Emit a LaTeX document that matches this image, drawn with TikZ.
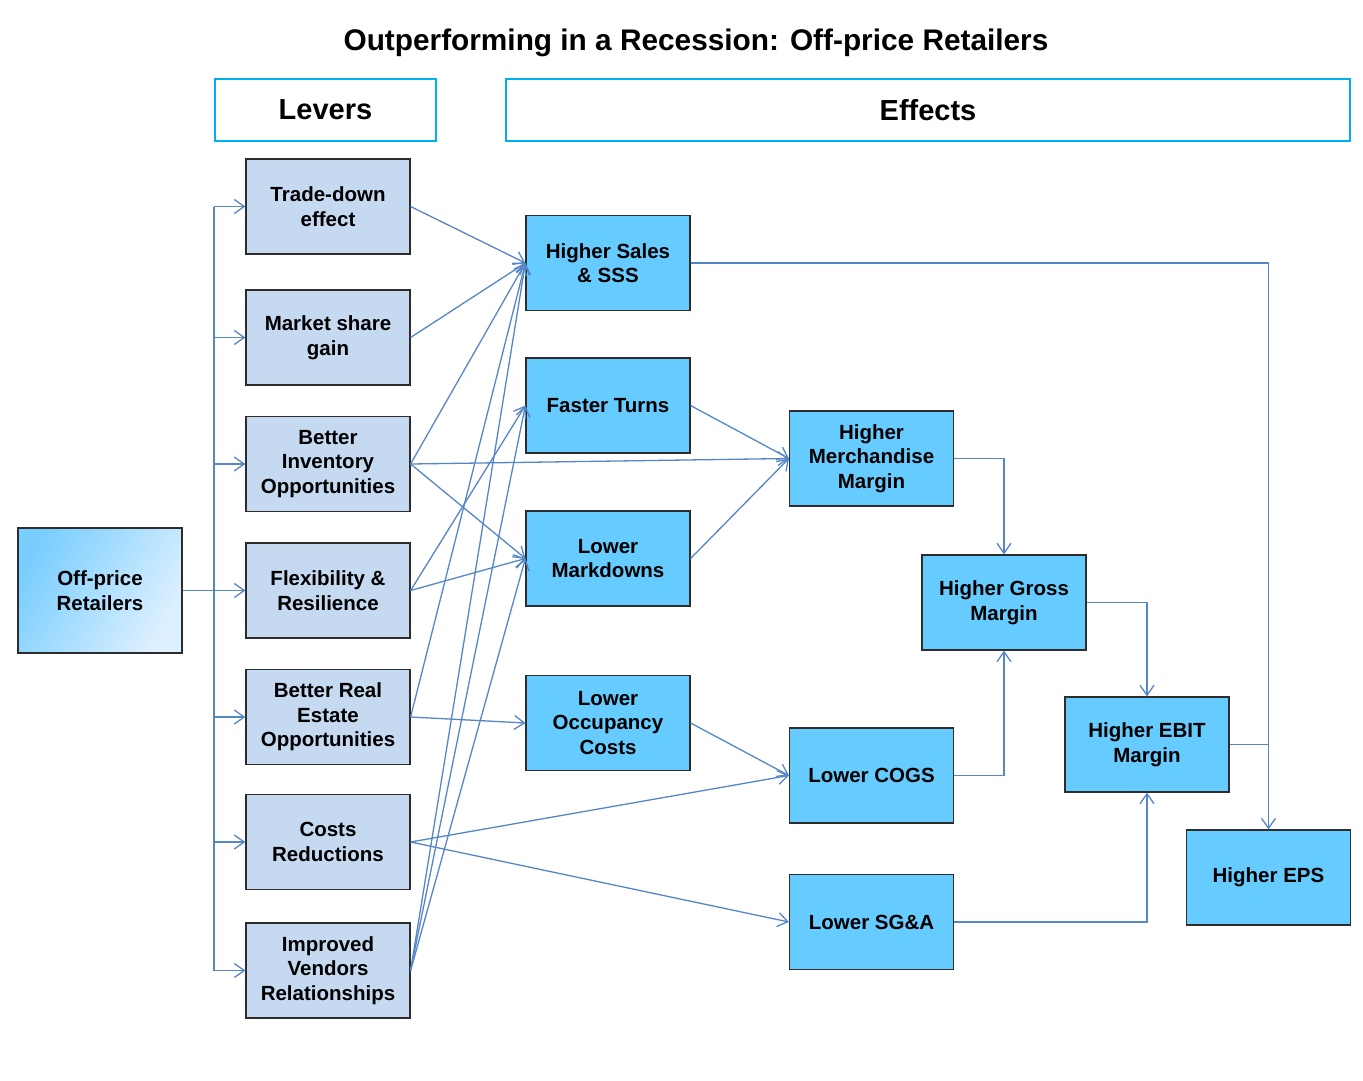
\documentclass[tikz,border=0pt]{standalone}
\usepackage{fontspec}
\setmainfont{Liberation Sans}
\usetikzlibrary{arrows.meta, positioning, calc}
\definecolor{leverfill}{RGB}{197,217,241}
\definecolor{effectfill}{RGB}{102,204,255}
\definecolor{linkblue}{RGB}{84,134,200}
\definecolor{headline}{RGB}{0,176,240}
\definecolor{boxline}{RGB}{45,45,45}
\definecolor{srcdark}{RGB}{122,206,255}
\definecolor{srclight}{RGB}{222,240,255}

\begin{document}
\begin{tikzpicture}[
    x=1pt, y=-1pt,
    every node/.style={font=\bfseries\fontsize{20.5}{24.5}\selectfont},
    lever/.style={rectangle, draw=boxline, line width=1.2pt, fill=leverfill, minimum width=164pt, minimum height=95pt, align=center, inner sep=2pt},
    effect/.style={lever, fill=effectfill},
    source/.style={lever, minimum height=125pt, left color=srcdark, right color=srclight, shading angle=60},
    header/.style={rectangle, draw=headline, line width=1.4pt, minimum height=62pt, font=\bfseries\fontsize{29}{34}\selectfont},
    arrow/.style={-{Straight Barb[length=10pt, width=14pt]}, draw=linkblue, line width=1.3pt},
    link/.style={draw=linkblue, line width=1.3pt}
]
\useasboundingbox (0,0) rectangle (1363,1081);
\node[font=\bfseries\fontsize{29.8}{34}\selectfont] (title) at (696,43) {Outperforming in a Recession: Off-price Retailers};
\node[header, minimum width=221pt] (levers_head) at (325.5,110) {Levers};
\node[header, minimum width=844pt] (effects_head) at (928,110) {Effects};
% source and levers
\node[source] (off_price) at (100,590.5) {Off-price\\Retailers};
\node[lever] (trade) at (328,206.5) {Trade-down\\effect};
\node[lever] (market) at (328,337.5) {Market share\\gain};
\node[lever] (inventory) at (328,464) {Better\\Inventory\\Opportunities};
\node[lever] (flex) at (328,590.5) {Flexibility \&\\Resilience};
\node[lever] (estate) at (328,717) {Better Real\\Estate\\Opportunities};
\node[lever] (costs) at (328,842) {Costs\\Reductions};
\node[lever] (vendors) at (328,970.5) {Improved\\Vendors\\Relationships};
% effects
\node[effect] (sales) at (608,263) {Higher Sales\\\& SSS};
\node[effect] (turns) at (608,405.5) {Faster Turns};
\node[effect] (markdowns) at (608,558.5) {Lower\\Markdowns};
\node[effect] (occupancy) at (608,723) {Lower\\Occupancy\\Costs};
\node[effect] (merch) at (871.5,458.5) {Higher\\Merchandise\\Margin};
\node[effect] (cogs) at (871.5,775.5) {Lower COGS};
\node[effect] (sga) at (871.5,922) {Lower SG\&A};
\node[effect] (gross) at (1004,602.5) {Higher Gross\\Margin};
\node[effect] (ebit) at (1147,744.5) {Higher EBIT\\Margin};
\node[effect] (eps) at (1268.5,877.5) {Higher EPS};
\coordinate (bus_x) at (214,0);
% bus to levers
\draw[link] (trade.west -| bus_x) -- (vendors.west -| bus_x);
\draw[arrow] (off_price) -- (flex);
\draw[arrow] (trade.west -| bus_x) -- (trade.west);
\draw[arrow] (market.west -| bus_x) -- (market.west);
\draw[arrow] (inventory.west -| bus_x) -- (inventory.west);
\draw[arrow] (estate.west -| bus_x) -- (estate.west);
\draw[arrow] (costs.west -| bus_x) -- (costs.west);
\draw[arrow] (vendors.west -| bus_x) -- (vendors.west);
% levers to effects
\draw[arrow] (trade.east) -- (sales.west);
\draw[arrow] (market.east) -- (sales.west);
\draw[arrow] (inventory.east) -- (sales.west);
\draw[arrow] (inventory.east) -- (merch.west);
\draw[arrow] (inventory.east) -- (markdowns.west);
\draw[arrow] (flex.east) -- (turns.west);
\draw[arrow] (flex.east) -- (markdowns.west);
\draw[arrow] (estate.east) -- (sales.west);
\draw[arrow] (estate.east) -- (occupancy.west);
\draw[arrow] (costs.east) -- (cogs.west);
\draw[arrow] (costs.east) -- (sga.west);
\draw[arrow] (vendors.east) -- (sales.west);
\draw[arrow] (vendors.east) -- (turns.west);
\draw[arrow] (vendors.east) -- (markdowns.west);
% effects chain
\draw[arrow] (turns.east) -- (merch.west);
\draw[arrow] (markdowns.east) -- (merch.west);
\draw[arrow] (occupancy.east) -- (cogs.west);
\draw[arrow] (merch.east) -| (gross.north);
\draw[arrow] (cogs.east) -| (gross.south);
\draw[arrow] (gross.east) -| (ebit.north);
\draw[arrow] (sga.east) -| (ebit.south);
\draw[arrow] (sales.east) -| (eps.north);
\draw[link] (ebit.east) -- (ebit.east -| eps.north);
\end{tikzpicture}
\end{document}
